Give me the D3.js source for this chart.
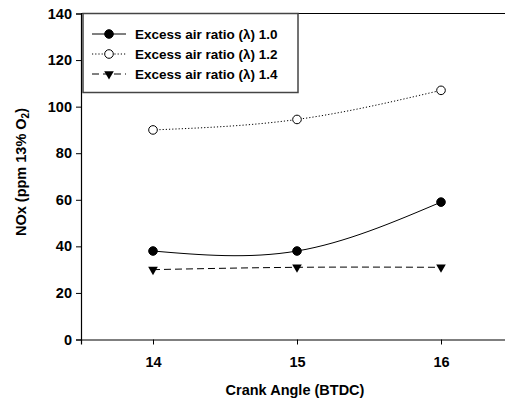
<!DOCTYPE html>
<html lang="en">
<head>
<meta charset="UTF-8" />
<title>NOx vs Crank Angle</title>
<script src="https://d3js.org/d3.v7.min.js"></script>
<style>
  body { margin: 0; background: #fff; }
  svg { display: block; font-family: "Liberation Sans", Arial, sans-serif; font-weight: bold; }
  .tick text { font-size: 14.5px; font-weight: bold; fill: #000; }
</style>
</head>
<body>
<svg id="chart" width="505" height="401"></svg>
<script>
const crankAngles = [14, 15, 16];
const lambda10 = [38, 38, 59];
const lambda12 = [90, 94.5, 107];
const lambda14 = [30, 31, 31];
const seriesNames = ["Excess air ratio (\u03bb) 1.0", "Excess air ratio (\u03bb) 1.2", "Excess air ratio (\u03bb) 1.4"];
const yTicks = [0, 20, 40, 60, 80, 100, 120, 140];

const series = [
  { name: seriesNames[0], values: lambda10, marker: "circle", fill: "#000", dash: null },
  { name: seriesNames[1], values: lambda12, marker: "circle", fill: "#fff", dash: "1.2,2" },
  { name: seriesNames[2], values: lambda14, marker: "tri", fill: "#000", dash: "7,4" }
];

const svg = d3.select("#chart");
const x = d3.scaleLinear().domain([13.5, 16.5]).range([81, 513]);
const y = d3.scaleLinear().domain([0, 140]).range([339.5, 13.5]);

// frame top line
svg.append("line").attr("x1", 81).attr("x2", 505).attr("y1", y(140)).attr("y2", y(140))
  .attr("stroke", "#000").attr("stroke-width", 1);

const yAxis = svg.append("g").attr("transform", "translate(81,0)")
  .call(d3.axisLeft(y).tickValues(yTicks).tickSize(5).tickPadding(4));
const xAxis = svg.append("g").attr("transform", `translate(0,${y(0)})`)
  .call(d3.axisBottom(x).tickValues(crankAngles).tickFormat(d3.format("d")).tickSize(5).tickPadding(12));
[yAxis, xAxis].forEach(a => {
  a.select(".domain").attr("stroke", "#000").attr("stroke-width", 1.2);
  a.selectAll(".tick line").attr("stroke", "#000");
});

svg.append("text").attr("x", 295).attr("y", 395).attr("text-anchor", "middle")
  .attr("font-size", 14.5).text("Crank Angle (BTDC)");

const yl = svg.append("text").attr("transform", "translate(26,172) rotate(-90)")
  .attr("text-anchor", "middle").attr("font-size", 14.5);
yl.append("tspan").text("NOx (ppm 13% O");
yl.append("tspan").attr("font-size", 10).attr("dy", 3).text("2");
yl.append("tspan").attr("dy", -3).text(")");

const line = d3.line().x((d, i) => x(crankAngles[i])).y(d => y(d)).curve(d3.curveNatural);
const tri = d3.symbol().type(d3.symbolTriangle).size(40);

function drawMarker(g, s, cx, cy) {
  if (s.marker === "circle") {
    g.append("circle").attr("cx", cx).attr("cy", cy).attr("r", 4.3)
      .attr("fill", s.fill).attr("stroke", "#000").attr("stroke-width", 1);
  } else {
    g.append("path").attr("d", tri).attr("transform", `translate(${cx},${cy}) rotate(180)`)
      .attr("fill", "#000");
  }
}

series.forEach(s => {
  svg.append("path").datum(s.values).attr("d", line).attr("fill", "none")
    .attr("stroke", "#000").attr("stroke-width", 1)
    .attr("stroke-dasharray", s.dash);
  const g = svg.append("g");
  s.values.forEach((v, i) => drawMarker(g, s, x(crankAngles[i]), y(v)));
});

// legend
const lg = svg.append("g");
lg.append("rect").attr("x", 83).attr("y", 13.5).attr("width", 215).attr("height", 79)
  .attr("fill", "#fff").attr("stroke", "#444").attr("stroke-width", 1.5);
const rowY = [34, 54, 74];
series.forEach((s, i) => {
  lg.append("line").attr("x1", 92).attr("x2", 126).attr("y1", rowY[i]).attr("y2", rowY[i])
    .attr("stroke", "#000").attr("stroke-width", 1).attr("stroke-dasharray", s.dash);
  drawMarker(lg, s, 109, rowY[i]);
  lg.append("text").attr("x", 135).attr("y", rowY[i]).attr("dy", "0.35em")
    .attr("font-size", 13.5).text(s.name);
});
</script>
</body>
</html>
